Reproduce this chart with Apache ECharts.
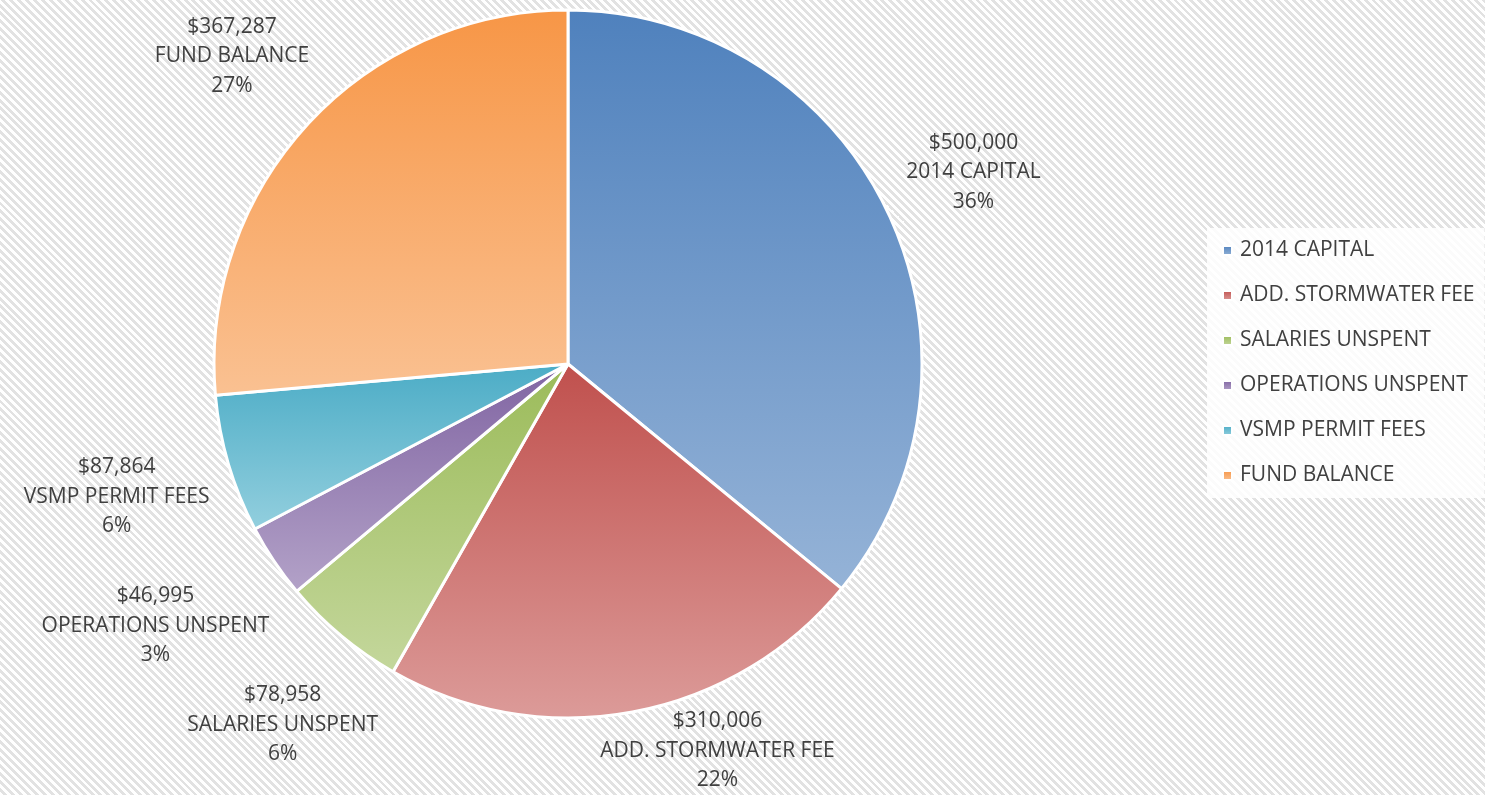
<!DOCTYPE html>
<html>
<head>
<meta charset="utf-8">
<script src="https://cdn.jsdelivr.net/npm/echarts@6/dist/echarts.min.js"></script>
<style>
html,body{margin:0;padding:0;}
body{width:1485px;height:795px;background:repeating-linear-gradient(45deg,#ffffff 0px,#ffffff 2.8px,#e2e2e2 2.8px,#e2e2e2 5.6px);}
#c{width:1485px;height:795px;}
</style>
</head>
<body>
<div id="c"></div>
<script>
const categories = ['2014 CAPITAL','ADD. STORMWATER FEE','SALARIES UNSPENT','OPERATIONS UNSPENT','VSMP PERMIT FEES','FUND BALANCE'];
const values = [500000, 310006, 78958, 46995, 87864, 367287];
const topColors = ['#4f81bd','#c0504d','#9bbb59','#8064a2','#4bacc6','#f79646'];
const bottomColors = ['#95b3d7','#dc9b99','#c4d79c','#b3a2c8','#93cfde','#fac192'];

const W = 1485, H = 795;
const CX = 568, CY = 364, R = 354, GAP = 15, GAP_CLAMP = -10, PAD = 10;
const FS = 21, LH = 29.5, FONT = 'Open Sans';
const total = values.reduce((a,b)=>a+b,0);
function fmt(n){ return '$' + String(n).replace(/\B(?=(\d{3})+(?!\d))/g, ','); }

// mid angles (clockwise from 12 o'clock)
const mids = values.map((v,i)=>{ let s=0; for(let k=0;k<i;k++) s+=values[k]; return ((s+v/2)/total)*Math.PI*2; });

// measure label boxes
const mctx = document.createElement('canvas').getContext('2d');
mctx.font = FS + 'px "' + FONT + '"';
const boxes = categories.map((n,i)=>{
  const w = Math.max(mctx.measureText(fmt(values[i])).width, mctx.measureText(n).width, mctx.measureText('100%').width);
  return {hw: w/2, hh: LH*3/2};
});

function closest(x,y,hw,hh){ const nx=Math.max(Math.abs(x)-hw,0), ny=Math.max(Math.abs(y)-hh,0); return Math.sqrt(nx*nx+ny*ny); }
function place(i, a){
  const {hw,hh} = boxes[i];
  const dx = Math.sin(a), dy = -Math.cos(a);
  let t = R;
  for(; t < R + 500; t += 0.5){ if (closest(dx*t, dy*t, hw, hh) >= R + GAP) break; }
  let x = CX + dx*t, y = CY + dy*t;
  const cy = Math.min(Math.max(y, hh), H - hh);
  if (cy !== y){
    y = cy;
    const s = dx >= 0 ? 1 : -1;
    x = CX;
    while (closest(x-CX, y-CY, hw, hh) < R + GAP_CLAMP) x += s*0.5;
  }
  x = Math.min(Math.max(x, hw), W - hw);
  return {x, y};
}
// spread overlapping labels angularly
const angles = mids.slice();
for (let it=0; it<600; it++){
  const pos = angles.map((a,i)=>place(i,a));
  let moved = false;
  for (let i=0;i<pos.length;i++) for (let j=i+1;j<pos.length;j++){
    const ox = (boxes[i].hw + boxes[j].hw + PAD) - Math.abs(pos[i].x-pos[j].x);
    const oy = (boxes[i].hh + boxes[j].hh + PAD) - Math.abs(pos[i].y-pos[j].y);
    if (ox > 0 && oy > 0){
      const s = angles[i] < angles[j] ? 1 : -1;
      angles[i] -= s*0.002; angles[j] += s*0.002; moved = true;
    }
  }
  if (!moved) break;
}
const labelPos = angles.map((a,i)=>place(i,a));

const chart = echarts.init(document.getElementById('c'), null, {renderer:'canvas'});
chart.setOption({
  backgroundColor: 'transparent',
  textStyle: {fontFamily: FONT},
  legend: {
    orient: 'vertical',
    left: 1207, top: 228,
    padding: [12, 10, 12, 15],
    backgroundColor: 'rgba(255,255,255,0.85)',
    itemWidth: 9, itemHeight: 9, itemGap: 24,
    icon: 'rect',
    textStyle: {fontSize: FS, color: '#404040', fontFamily: FONT, padding:[0,0,0,3]},
    data: categories
  },
  series: [{
    type: 'pie',
    center: [CX, CY],
    radius: R,
    startAngle: 90,
    clockwise: true,
    percentPrecision: 0,
    animation: false,
    itemStyle: {borderColor: '#ffffff', borderWidth: 3},
    label: {
      show: true,
      position: 'outside',
      alignTo: 'none',
      overflow: 'none',
      edgeDistance: 0,
      bleedMargin: 0,
      formatter: p => fmt(p.value) + '\n' + p.name + '\n' + p.percent + '%',
      fontSize: FS, lineHeight: LH, color: '#404040', align: 'center',
      fontFamily: FONT
    },
    labelLine: {show: false},
    labelLayout: function(p){
      const q = labelPos[p.dataIndex];
      return {x: q.x, y: q.y, align: 'center', verticalAlign: 'middle'};
    },
    data: categories.map((n,i)=>({
      name: n, value: values[i],
      itemStyle: {color: new echarts.graphic.LinearGradient(0,0,0,1,[{offset:0,color:topColors[i]},{offset:1,color:bottomColors[i]}])}
    }))
  }]
});
</script>
</body>
</html>
